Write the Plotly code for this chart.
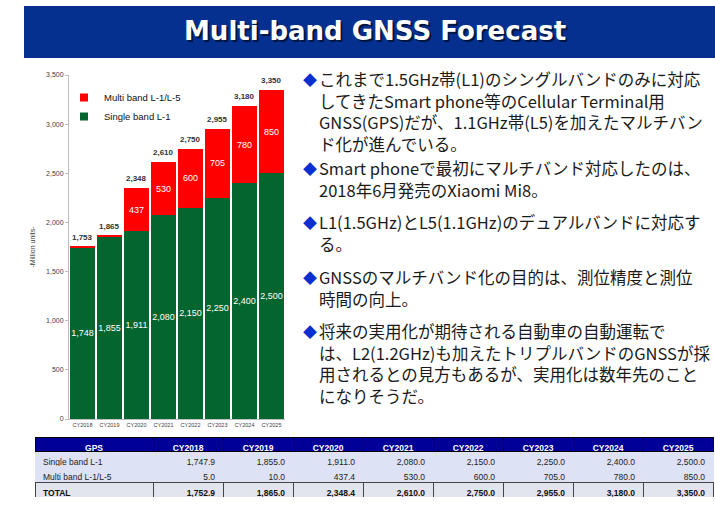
import plotly.graph_objects as go

# ---------------- data ----------------
years = ["CY2018", "CY2019", "CY2020", "CY2021", "CY2022", "CY2023", "CY2024", "CY2025"]
single_band = [1747.9, 1855.0, 1911.0, 2080.0, 2150.0, 2250.0, 2400.0, 2500.0]
multi_band = [5.0, 10.0, 437.4, 530.0, 600.0, 705.0, 780.0, 850.0]
y_ticks = [0, 500, 1000, 1500, 2000, 2500, 3000, 3500]
series_single = "Single band L-1"
series_multi = "Multi band L-1/L-5"
title_text = "Multi-band GNSS Forecast"
y_axis_title = "-Million units-"
table_first_header = "GPS"
table_total_label = "TOTAL"

bullets = [
    ["これまで1.5GHz帯(L1)のシングルバンドのみに対応",
     "してきたSmart phone等のCellular Terminal用",
     "GNSS(GPS)だが、1.1GHz帯(L5)を加えたマルチバン",
     "ド化が進んでいる。"],
    ["Smart phoneで最初にマルチバンド対応したのは、",
     "2018年6月発売のXiaomi Mi8。"],
    ["L1(1.5GHz)とL5(1.1GHz)のデュアルバンドに対応す",
     "る。"],
    ["GNSSのマルチバンド化の目的は、測位精度と測位",
     "時間の向上。"],
    ["将来の実用化が期待される自動車の自動運転で",
     "は、L2(1.2GHz)も加えたトリプルバンドのGNSSが採",
     "用されるとの見方もあるが、実用化は数年先のこと",
     "になりそうだ。"],
]

totals = [s + m for s, m in zip(single_band, multi_band)]

# ---------------- style ----------------
W, H = 715, 529
GREEN = "#05652f"
RED = "#ff0000"
NAVY = "#06308f"
FONT = "Liberation Sans, Arial, sans-serif"
JFONT = "Noto Sans CJK JP, sans-serif"


def px(x):
    return x / W


def py(y):
    return 1 - y / H


fig = go.Figure()

fig.add_trace(go.Bar(
    x=years, y=single_band, name=series_single, marker=dict(color=GREEN, line=dict(width=0)),
    text=[f"{v:,.0f}" for v in single_band], textposition="inside", insidetextanchor="middle",
    textangle=0, textfont=dict(color="white", size=9, family=FONT), showlegend=False,
    hoverinfo="x+y+name"))
fig.add_trace(go.Bar(
    x=years, y=multi_band, name=series_multi, marker=dict(color=RED, line=dict(width=0)),
    text=[f"{v:,.0f}" if v >= 100 else "" for v in multi_band], textposition="inside",
    insidetextanchor="middle", textangle=0, textfont=dict(color="white", size=9, family=FONT),
    showlegend=False, hoverinfo="x+y+name"))

# legend entries
fig.add_trace(go.Scatter(x=[None], y=[None], mode="markers", name=series_multi,
                         marker=dict(symbol="square", size=8, color=RED)))
fig.add_trace(go.Scatter(x=[None], y=[None], mode="markers", name=series_single,
                         marker=dict(symbol="square", size=8, color=GREEN)))

# table: header + two band rows
cell_cols = [[series_single, series_multi]]
for s, m in zip(single_band, multi_band):
    cell_cols.append([f"{s:,.1f}", f"{m:,.1f}"])
ncol = len(cell_cols)
col_widths = [118] + [70] * (ncol - 1)
col_align = ["left"] + ["right"] * (ncol - 1)
fig.add_trace(go.Table(
    domain=dict(x=[px(35), px(713)], y=[py(482), py(437)]),
    columnwidth=col_widths,
    header=dict(values=[table_first_header] + years,
                fill_color="#000099", line=dict(color="#000000", width=1),
                font=dict(color="white", size=8.5, family=FONT, weight="bold"), align="center", height=14),
    cells=dict(values=cell_cols, fill_color="#dde3f4", line=dict(color="#dde3f4", width=1),
               font=dict(color="#222222", size=8.5, family=FONT),
               align=col_align, height=15),
))
# table: total row
fig.add_trace(go.Table(
    domain=dict(x=[px(35), px(713)], y=[py(498), py(482)]),
    columnwidth=col_widths,
    header=dict(values=[table_total_label] + [f"{t:,.1f}" for t in totals],
                fill_color="#e2e5ee", line=dict(color="#444444", width=1),
                font=dict(color="#111111", size=8.5, family=FONT, weight="bold"),
                align=col_align, height=15),
    cells=dict(values=[]),
))

annotations = []
# total labels above the stacks
for yr, t in zip(years, totals):
    annotations.append(dict(x=yr, y=t, xref="x", yref="y", showarrow=False, text=f"{t:,.0f}",
                            font=dict(size=8, color="#333333", family=FONT, weight="bold"),
                            xanchor="center", yanchor="bottom", yshift=3))
# title shadow + title
annotations.append(dict(x=px(376.5), y=py(32.5), xref="paper", yref="paper", showarrow=False,
                        text=f"<b>{title_text}</b>", font=dict(size=26, color="#001540", family="DejaVu Sans"),
                        xanchor="center", yanchor="middle"))
annotations.append(dict(x=px(375), y=py(31), xref="paper", yref="paper", showarrow=False,
                        text=f"<b>{title_text}</b>", font=dict(size=26, color="white", family="DejaVu Sans"),
                        xanchor="center", yanchor="middle"))

# bullet text
bullet_tops = [79, 168, 222, 277, 331]
line_step = 21.5
for top, lines_ in zip(bullet_tops, bullets):
    annotations.append(dict(x=px(301), y=py(top), xref="paper", yref="paper", showarrow=False,
                            text="◆", font=dict(size=14, color="#0a2fd0", family=JFONT),
                            xanchor="left", yanchor="middle"))
    for i, ln in enumerate(lines_):
        annotations.append(dict(x=px(317), y=py(top + i * line_step), xref="paper", yref="paper",
                                showarrow=False, text=ln,
                                font=dict(size=16.5, color="#1a1a1a", family=JFONT),
                                xanchor="left", yanchor="middle"))

shapes = [
    dict(type="rect", xref="paper", yref="paper", x0=px(24), x1=1, y0=py(58), y1=py(6),
         fillcolor=NAVY, line=dict(width=0), layer="below"),
]

fig.update_layout(
    width=W, height=H, margin=dict(l=0, r=0, t=0, b=0, autoexpand=False),
    paper_bgcolor="white", plot_bgcolor="white",
    barmode="stack", bargap=0.075,
    font=dict(family=FONT, color="#333333"),
    uniformtext=dict(minsize=9, mode="show"),
    xaxis=dict(domain=[px(69), px(285)], showline=True, linecolor="#c0c0c0", ticks="",
               tickfont=dict(size=5.5, color="#404040"), tickangle=0, showgrid=False,
               automargin=False),
    yaxis=dict(domain=[py(419), py(75)], range=[0, 3500], tickvals=y_ticks, tickformat=",",
               showline=True, linecolor="#c0c0c0", ticks="outside", ticklen=3, tickcolor="#c0c0c0",
               tickfont=dict(size=7, color="#404040"), showgrid=False, zeroline=False,
               automargin=False,
               title=dict(text=y_axis_title, font=dict(size=7, color="#404040"), standoff=9)),
    legend=dict(x=px(64), y=py(83), xanchor="left", yanchor="top", bgcolor="rgba(0,0,0,0)",
                font=dict(size=9.5, color="#111111"), traceorder="normal", itemwidth=30,
                tracegroupgap=0),
    annotations=annotations,
    shapes=shapes,
)

fig.write_html("out.html", config={"displayModeBar": False},
               post_script="document.body.style.margin='0';")
